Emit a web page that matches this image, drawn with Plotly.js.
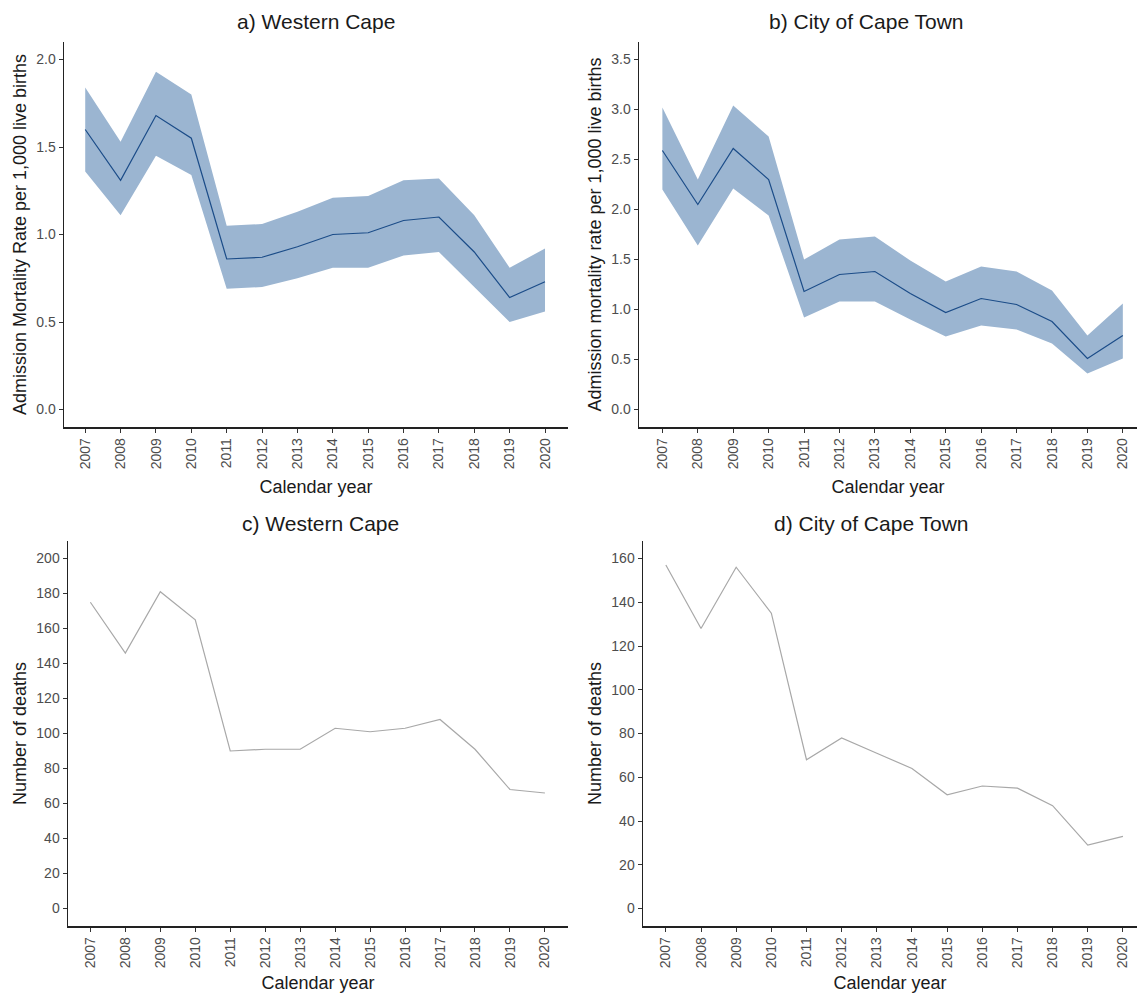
<!DOCTYPE html>
<html><head><meta charset="utf-8">
<script src="https://cdn.plot.ly/plotly-3.0.1.min.js"></script>
<style>html,body{margin:0;padding:0;background:#fff}#chart{width:1137px;height:993px}</style>
</head><body><div id="chart"></div>
<script>
const years = [2007,2008,2009,2010,2011,2012,2013,2014,2015,2016,2017,2018,2019,2020];
const yearLabels = years.map(String);

// a) Western Cape – admission mortality rate per 1,000 live births
const wcRate  = [1.60,1.31,1.68,1.55,0.86,0.87,0.93,1.00,1.01,1.08,1.10,0.90,0.64,0.73];
const wcUpper = [1.84,1.53,1.93,1.80,1.05,1.06,1.13,1.21,1.22,1.31,1.32,1.11,0.81,0.92];
const wcLower = [1.36,1.11,1.45,1.34,0.69,0.70,0.75,0.81,0.81,0.88,0.90,0.70,0.50,0.56];

// b) City of Cape Town – admission mortality rate per 1,000 live births
const ctRate  = [2.59,2.05,2.61,2.30,1.18,1.35,1.38,1.16,0.97,1.11,1.05,0.88,0.51,0.74];
const ctUpper = [3.02,2.30,3.04,2.73,1.50,1.70,1.73,1.49,1.28,1.43,1.38,1.19,0.74,1.06];
const ctLower = [2.20,1.64,2.21,1.94,0.92,1.08,1.08,0.90,0.73,0.84,0.80,0.66,0.36,0.51];

// c) Western Cape – number of deaths; d) City of Cape Town – number of deaths
const wcDeaths = [175,146,181,165,90,91,91,103,101,103,108,91,68,66];
const ctDeaths = [157,128,156,135,68,78,71,64,52,56,55,47,29,33];

const fillCol = '#9bb5d1';
const lineCol = '#1b4c88';
const greyLine = '#a8a8a8';
const FAM = 'Liberation Sans, Arial, sans-serif';
const tickFont = {family:FAM, size:14, color:'#4d4d4d'};
const titleFont = {family:FAM, size:18, color:'#1a1a1a'};
const headFont = {family:FAM, size:21, color:'#1a1a1a'};

function band(lo, hi, xa, ya){
  return [
    {x:years, y:lo, xaxis:xa, yaxis:ya, type:'scatter', mode:'lines', line:{width:0, color:fillCol}, hoverinfo:'skip', showlegend:false},
    {x:years, y:hi, xaxis:xa, yaxis:ya, type:'scatter', mode:'lines', fill:'tonexty', fillcolor:fillCol, line:{width:0, color:fillCol}, hoverinfo:'skip', showlegend:false}
  ];
}
const data = [
  ...band(wcLower, wcUpper, 'x', 'y'),
  {x:years, y:wcRate, xaxis:'x', yaxis:'y', type:'scatter', mode:'lines', line:{color:lineCol, width:1.2}, showlegend:false},
  ...band(ctLower, ctUpper, 'x2', 'y2'),
  {x:years, y:ctRate, xaxis:'x2', yaxis:'y2', type:'scatter', mode:'lines', line:{color:lineCol, width:1.2}, showlegend:false},
  {x:years, y:wcDeaths, xaxis:'x3', yaxis:'y3', type:'scatter', mode:'lines', line:{color:greyLine, width:1.2}, showlegend:false},
  {x:years, y:ctDeaths, xaxis:'x4', yaxis:'y4', type:'scatter', mode:'lines', line:{color:greyLine, width:1.2}, showlegend:false}
];

const W = 1137, H = 993;
function xax(x0, x1, anchor, range){
  return {domain:[x0/W, x1/W], anchor:anchor, range:range, tickmode:'array', tickvals:years, ticktext:yearLabels,
    tickangle:-90, ticks:'outside', ticklen:4, tickcolor:'#333', tickwidth:1, showline:true, linecolor:'#222', linewidth:1.5,
    showgrid:false, zeroline:false, tickfont:tickFont,
    title:{text:'Calendar year', font:titleFont, standoff:12}};
}
function yax(y0, y1, anchor, range, dtick, fmt, title){
  return {domain:[1 - y1/H, 1 - y0/H], anchor:anchor, range:range, dtick:dtick, tick0:0, tickformat:fmt,
    ticks:'outside', ticklen:4, tickcolor:'#333', tickwidth:1, showline:true, linecolor:'#222', linewidth:1.5,
    showgrid:false, zeroline:false, tickfont:tickFont,
    title:{text:title, font:titleFont, standoff:5}};
}

const layout = {
  width:W, height:H, margin:{l:0, r:0, t:0, b:0}, paper_bgcolor:'#fff', plot_bgcolor:'#fff', showlegend:false,
  xaxis:  xax(64, 568, 'y',  [2006.4, 2020.65]),
  xaxis2: xax(639, 1137, 'y2', [2006.34, 2020.4]),
  xaxis3: xax(68, 568, 'y3', [2006.36, 2020.66]),
  xaxis4: xax(643, 1137, 'y4', [2006.35, 2020.4]),
  yaxis:  yax(42, 427, 'x',  [-0.1, 2.1], 0.5, '.1f', 'Admission Mortality Rate per 1,000 live births'),
  yaxis2: yax(42, 427, 'x2', [-0.175, 3.675], 0.5, '.1f', 'Admission mortality rate per 1,000 live births'),
  yaxis3: yax(541, 926, 'x3', [-10, 210], 20, 'd', 'Number of deaths'),
  yaxis4: yax(541, 926, 'x4', [-8, 168], 20, 'd', 'Number of deaths'),
  annotations:[
    {text:'a) Western Cape', x:316/W, y:1-22/H, xref:'paper', yref:'paper', showarrow:false, xanchor:'center', yanchor:'middle', font:headFont},
    {text:'b) City of Cape Town', x:866/W, y:1-22/H, xref:'paper', yref:'paper', showarrow:false, xanchor:'center', yanchor:'middle', font:headFont},
    {text:'c) Western Cape', x:320/W, y:1-523/H, xref:'paper', yref:'paper', showarrow:false, xanchor:'center', yanchor:'middle', font:headFont},
    {text:'d) City of Cape Town', x:871/W, y:1-523/H, xref:'paper', yref:'paper', showarrow:false, xanchor:'center', yanchor:'middle', font:headFont}
  ]
};

Plotly.newPlot('chart', data, layout, {displayModeBar:false, staticPlot:true});
</script>
</body></html>
